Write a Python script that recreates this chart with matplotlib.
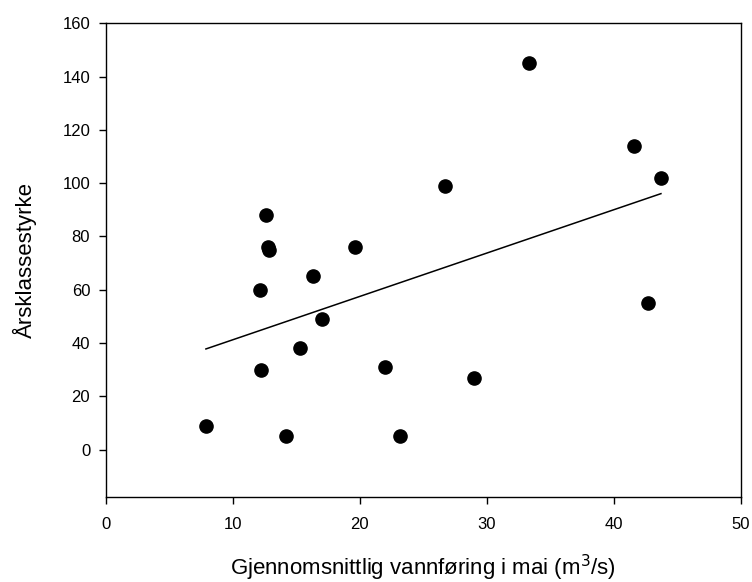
import matplotlib
matplotlib.use("Agg")
import matplotlib.pyplot as plt
import numpy as np

plt.rcParams['font.family'] = ['Liberation Sans', 'DejaVu Sans']

# vannføring i mai (m3/s) og årsklassestyrke
flow = [7.9, 12.15, 12.2, 12.6, 12.8, 12.9, 14.2, 15.3, 16.3, 17.0,
        19.6, 22.0, 23.2, 26.7, 29.0, 33.3, 41.6, 42.7, 43.7]
strength = [9, 60, 30, 88, 76, 75, 5, 38, 65, 49,
            76, 31, 5, 99, 27, 145, 114, 55, 102]

x_ticks = [0, 10, 20, 30, 40, 50]
y_ticks = [0, 20, 40, 60, 80, 100, 120, 140, 160]

fig = plt.figure(figsize=(7.52, 5.82), dpi=100)
ax = fig.add_axes([0.1403, 0.1452, 0.9854 - 0.1403, 0.96 - 0.1452])

ax.plot(flow, strength, 'o', color='black', markersize=9.5, zorder=3)

# linear regression line
slope, intercept = np.polyfit(flow, strength, 1)
xs = np.array([min(flow), max(flow)])
ax.plot(xs, slope * xs + intercept, color='black', linewidth=1.1)

ax.set_xlim(0, 50)
ax.set_ylim(-18, 160)
ax.set_xticks(x_ticks)
ax.set_yticks(y_ticks)
ax.tick_params(direction='out', length=5, width=1, labelsize=12)
ax.tick_params(axis='x', pad=9)
ax.tick_params(axis='y', pad=6)
for s in ax.spines.values():
    s.set_linewidth(1)

ax.set_xlabel("Gjennomsnittlig vannføring i mai (m$^3$/s)", fontsize=16, labelpad=15)
ax.set_ylabel("Årsklassestyrke", fontsize=16, labelpad=18)

fig.savefig("out.png", dpi=100)
